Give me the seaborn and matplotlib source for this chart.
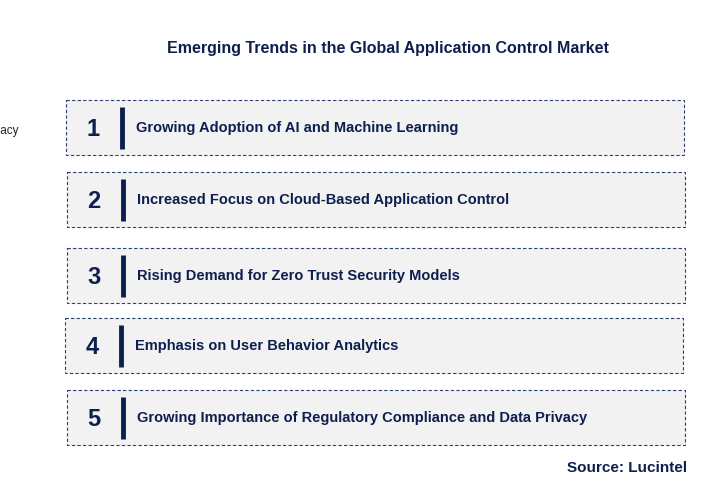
import matplotlib
matplotlib.use("Agg")
import matplotlib.pyplot as plt
import seaborn as sns
from matplotlib.patches import Rectangle

sns.set_style("white")
plt.rcParams['font.family'] = ['Liberation Sans', 'DejaVu Sans']

title = "Emerging Trends in the Global Application Control Market"
numbers = ["1", "2", "3", "4", "5"]
trends = [
    "Growing Adoption of AI and Machine Learning",
    "Increased Focus on Cloud-Based Application Control",
    "Rising Demand for Zero Trust Security Models",
    "Emphasis on User Behavior Analytics",
    "Growing Importance of Regulatory Compliance and Data Privacy",
]
# box left edge and top edge (pixels) as they sit in the picture
box_left = [66, 67, 67, 65, 67]
box_top = [100, 172, 248, 318, 390]
source = "Source: Lucintel"

navy = "#0d1f4f"

fig = plt.figure(figsize=(7.12, 5.01), dpi=100)
ax = fig.add_axes([0, 0, 1, 1])
ax.set_xlim(0, 712)
ax.set_ylim(501, 0)
ax.axis("off")

ax.text(388, 48, title, ha="center", va="center", fontsize=11.5,
        fontweight="bold", color=navy)
ax.text(18, 131, "Data Privacy", ha="right", va="center", fontsize=8.5, color="#222222")

for num, txt, x0, y0 in zip(numbers, trends, box_left, box_top):
    ax.add_patch(Rectangle((x0, y0), 618, 55, facecolor="#f2f2f2",
                           edgecolor="#2d3f6e", linestyle=(0, (3, 2)), linewidth=0.8))
    ax.text(x0 + 27, y0 + 29, num, ha="center", va="center", fontsize=17,
            fontweight="bold", color=navy)
    ax.plot([x0 + 56, x0 + 56], [y0 + 7, y0 + 49], color=navy, linewidth=3.5,
            solid_capstyle="butt")
    ax.text(x0 + 70, y0 + 28, txt, ha="left", va="center", fontsize=10.5,
            fontweight="bold", color=navy)

ax.text(687, 468, source, ha="right", va="center", fontsize=11,
        fontweight="bold", color=navy)

fig.savefig("out.png", dpi=100)
